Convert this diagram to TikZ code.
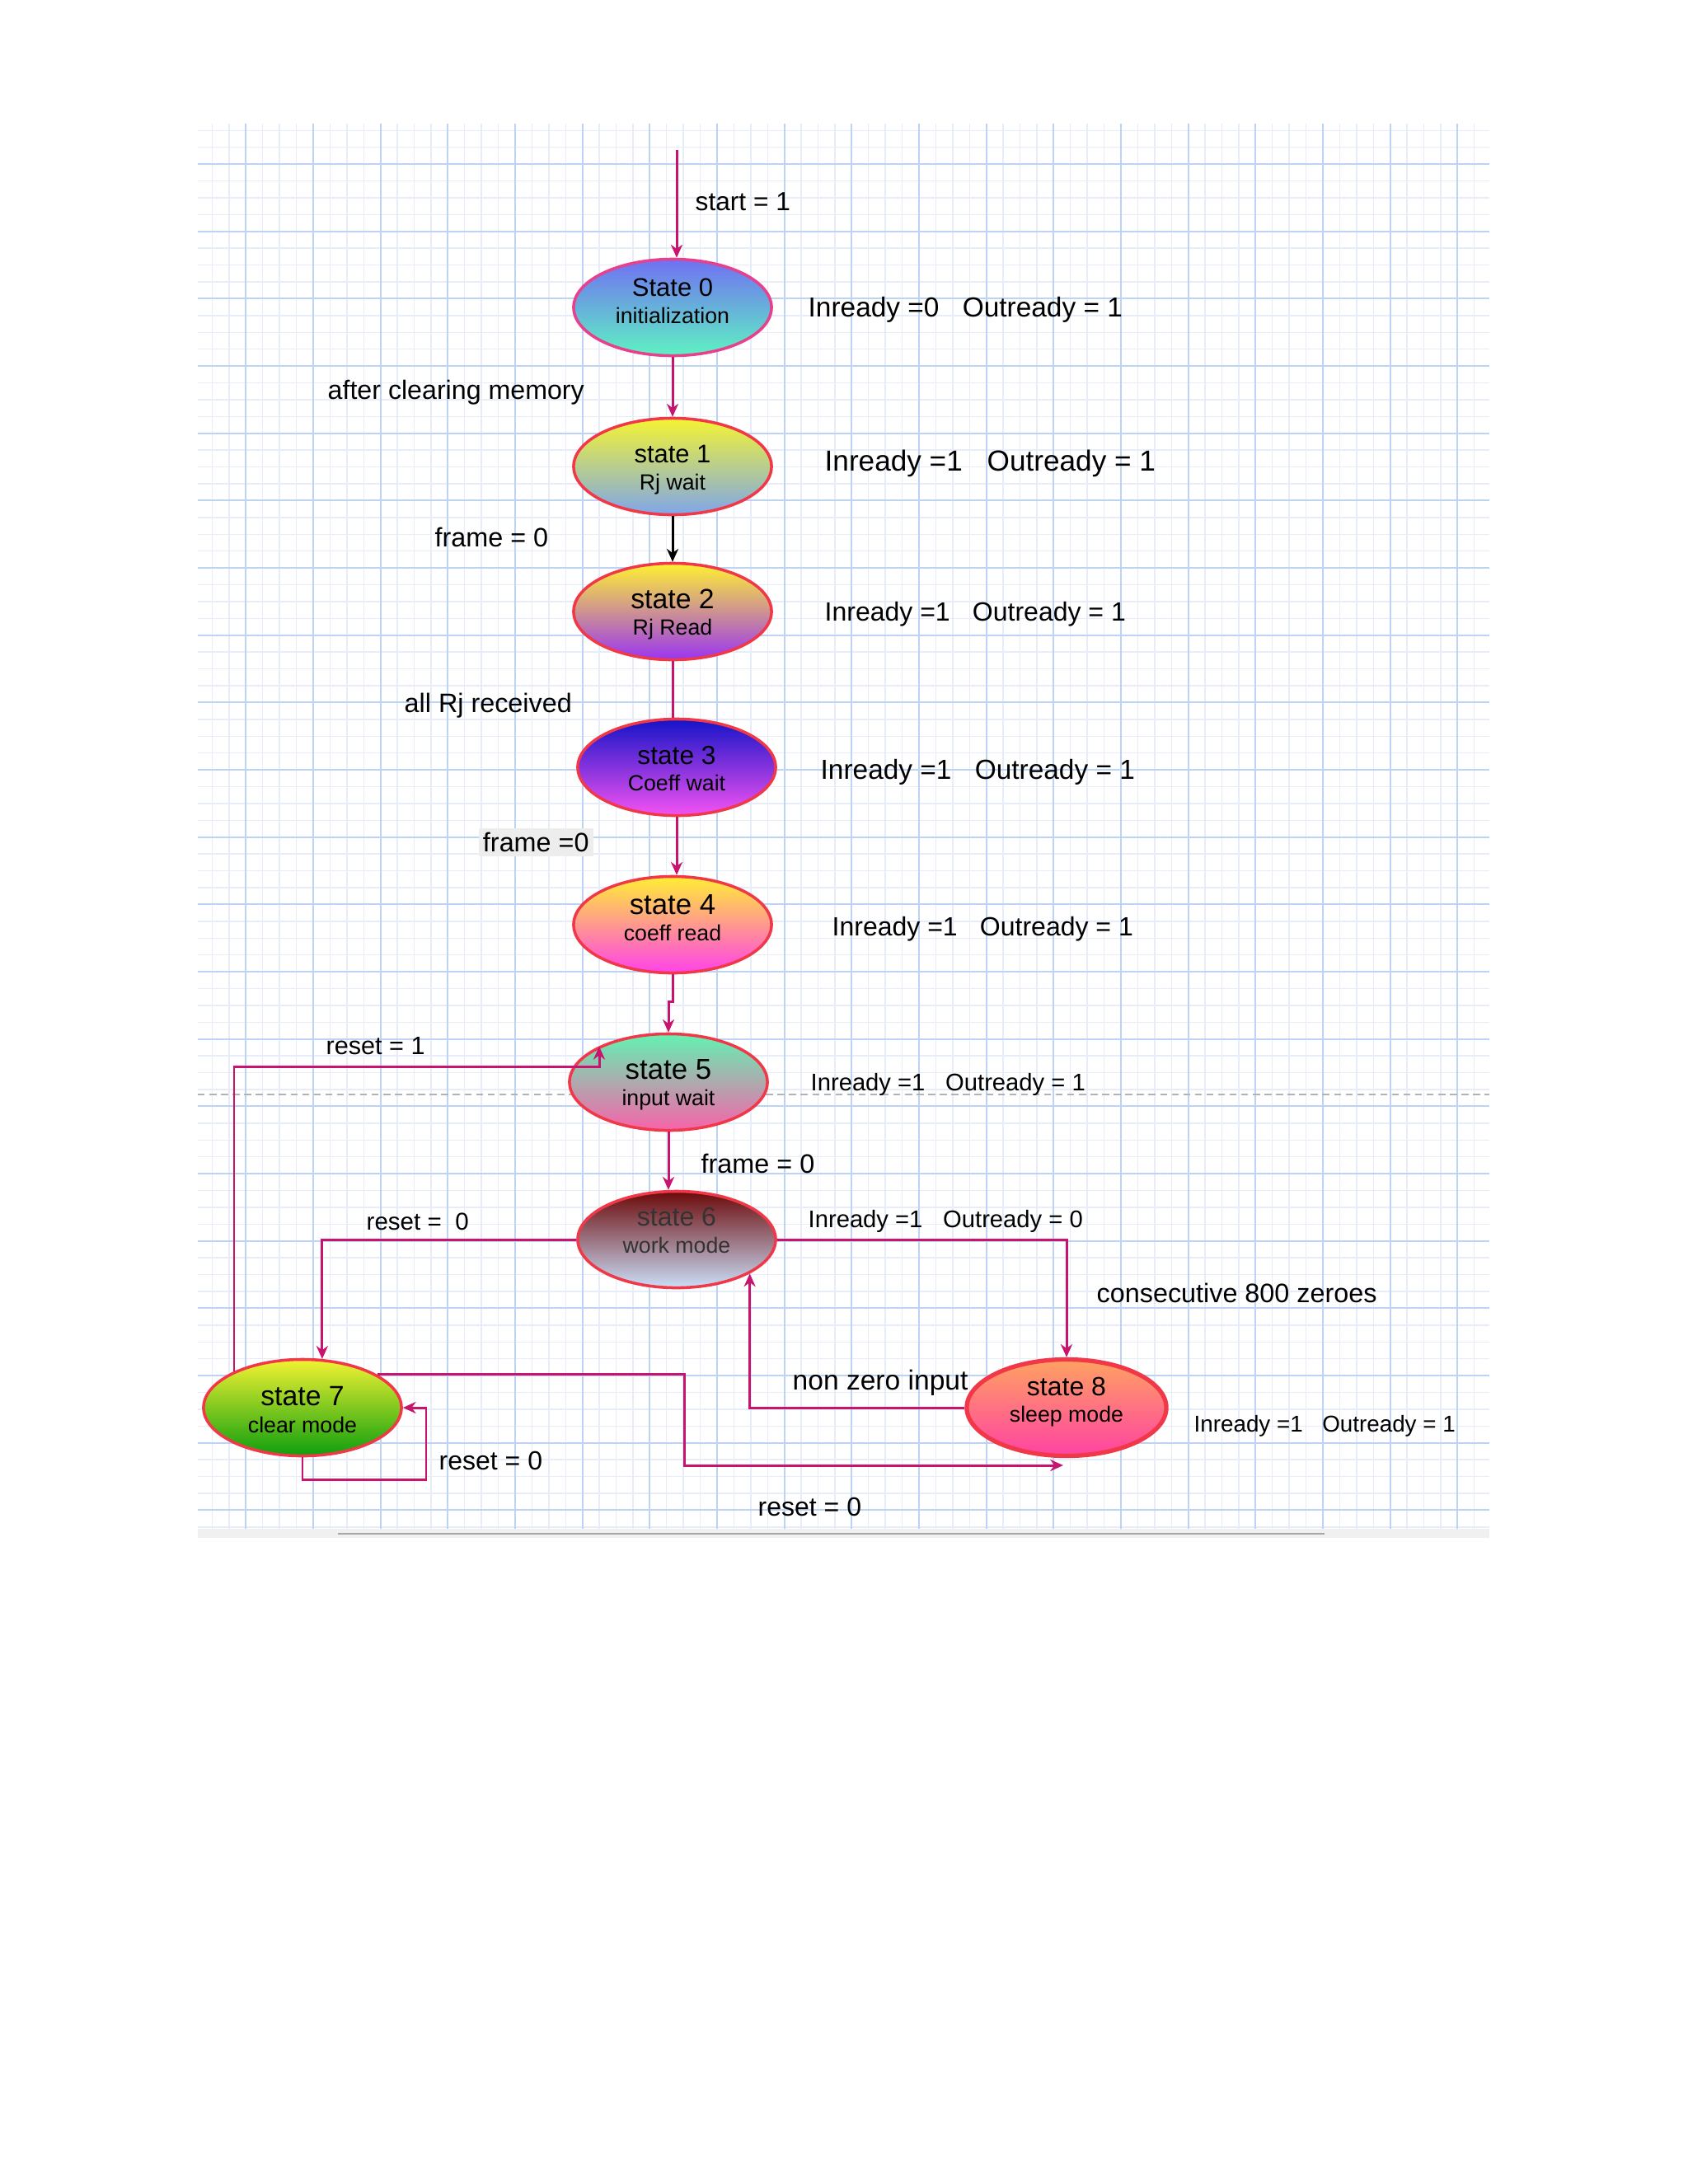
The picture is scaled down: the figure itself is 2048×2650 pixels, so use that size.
\documentclass[tikz,border=0pt]{standalone}
\usepackage{fontspec}
\setmainfont{Liberation Sans}
\usetikzlibrary{arrows.meta,shapes.geometric}
\definecolor{lnk}{HTML}{C8146E}
\definecolor{gmin}{HTML}{E6EDF8}
\definecolor{gmaj}{HTML}{BCD3F3}
\definecolor{bred}{HTML}{F03848}
\definecolor{bpink}{HTML}{E8408C}
\tikzset{
  statebox/.style={ellipse, draw=bred, line width=1pt, minimum width=2.4cm, minimum height=1.17cm,
    inner sep=0pt},
  stxt/.style={inner sep=0pt, align=center},
  lbl/.style={inner sep=0pt, anchor=west, font=\fontsize{9.2}{11}\selectfont},
  lk/.style={draw=lnk, line width=0.85pt},
  arr/.style={-{Stealth[length=4.5pt,width=4pt]}},
  gminline/.style={draw=gmin, line width=0.4pt},
  gmajline/.style={draw=gmaj, line width=0.5pt}
}
\newcommand{\twoline}[2]{#1\\[-0.8pt]{\fontsize{7.6}{9}\selectfont #2}}
\begin{document}
\begin{tikzpicture}[x=0.01cm,y=-0.01cm]
\useasboundingbox (0,0) rectangle (2048,2650);
\fill[white] (0,0) rectangle (2048,2650);
% grid
\foreach \i in {0,...,75} \draw[gminline] ({257.5+20.417*\i},150) -- ({257.5+20.417*\i},1855);
\foreach \i in {0,...,83} \draw[gminline] (240,{158.2+20.417*\i}) -- (1807,{158.2+20.417*\i});
\foreach \m in {0,...,18} \draw[gmajline] ({298.3+81.667*\m},150) -- ({298.3+81.667*\m},1855);
\foreach \m in {0,...,20} \draw[gmajline] (240,{199+81.667*\m}) -- (1807,{199+81.667*\m});
\fill[black!6] (240,1855) rectangle (1807,1866);
\draw[black!35, line width=0.6pt] (410,1861) -- (1607,1861);
\draw[black!30, line width=0.5pt, dash pattern=on 2.4pt off 1.6pt] (240,1328) -- (1807,1328);

% states
\node[statebox, draw=bpink, top color={rgb,255:red,112;green,112;blue,242}, middle color={rgb,255:red,82;green,168;blue,216}, bottom color={rgb,255:red,94;green,242;blue,194}]
  (s0) at (816,373) {};
\node[stxt, font=\fontsize{8.8}{10}\selectfont, yshift=2.2pt] (s0t) at (s0) {\twoline{State 0}{initialization}};
\node[statebox, top color={rgb,255:red,244;green,244;blue,50}, middle color={rgb,255:red,180;green,196;blue,142}, bottom color={rgb,255:red,126;green,166;blue,234}]
  (s1) at (816,566) {};
\node[stxt, font=\fontsize{8.8}{10}\selectfont, yshift=-1.2pt] (s1t) at (s1) {\twoline{state 1}{Rj wait}};
\node[statebox, top color={rgb,255:red,255;green,240;blue,50}, middle color={rgb,255:red,218;green,146;blue,162}, bottom color={rgb,255:red,154;green,52;blue,242}]
  (s2) at (816,742) {};
\node[stxt, font=\fontsize{9.6}{10}\selectfont, yshift=-1pt] (s2t) at (s2) {\twoline{state 2}{Rj Read}};
\node[statebox, top color={rgb,255:red,20;green,20;blue,200}, middle color={rgb,255:red,124;green,48;blue,230}, bottom color={rgb,255:red,244;green,82;blue,242}]
  (s3) at (821,931) {};
\node[stxt, font=\fontsize{9}{10}\selectfont, yshift=-0.5pt] (s3t) at (s3) {\twoline{state 3}{Coeff wait}};
\node[statebox, top color={rgb,255:red,255;green,238;blue,52}, middle color={rgb,255:red,255;green,148;blue,160}, bottom color={rgb,255:red,255;green,66;blue,234}]
  (s4) at (816,1122) {};
\node[stxt, font=\fontsize{9.9}{10}\selectfont, yshift=2.4pt] (s4t) at (s4) {\twoline{state 4}{coeff read}};
\node[statebox, top color={rgb,255:red,98;green,242;blue,178}, middle color={rgb,255:red,178;green,176;blue,168}, bottom color={rgb,255:red,248;green,98;blue,170}]
  (s5) at (811,1313) {};
\node[stxt, font=\fontsize{9.9}{10}\selectfont, yshift=-1pt] (s5t) at (s5) {\twoline{state 5}{input wait}};
\node[statebox, top color={rgb,255:red,108;green,10;blue,10}, middle color={rgb,255:red,162;green,114;blue,130}, bottom color={rgb,255:red,202;green,222;blue,248}]
  (s6) at (821,1504) {};
\node[stxt, text=black!80, font=\fontsize{9.1}{10}\selectfont, yshift=3.1pt] (s6t) at (s6) {\twoline{state 6}{work mode}};
\node[statebox, top color={rgb,255:red,242;green,242;blue,50}, middle color={rgb,255:red,114;green,200;blue,26}, bottom color={rgb,255:red,14;green,158;blue,14}]
  (s7) at (367,1708) {};
\node[stxt, font=\fontsize{9.6}{10}\selectfont, yshift=-0.7pt] (s7t) at (s7) {\twoline{state 7}{clear mode}};
\node[statebox, line width=1.5pt, minimum width=2.42cm, top color={rgb,255:red,255;green,162;blue,98}, middle color={rgb,255:red,255;green,112;blue,128}, bottom color={rgb,255:red,255;green,66;blue,162}]
  (s8) at (1294,1708) {};
\node[stxt, font=\fontsize{9.1}{10}\selectfont, yshift=1.9pt] (s8t) at (s8) {\twoline{state 8}{sleep mode}};

% right-hand output labels
\node[lbl, font=\fontsize{9.5}{11}\selectfont] (o0) at (980,376) {Inready =0\hspace{0.85em}Outready = 1};
\node[lbl, font=\fontsize{10}{11}\selectfont] (o1) at (1000,562) {Inready =1\hspace{0.85em}Outready = 1};
\node[lbl, font=\fontsize{9.1}{11}\selectfont] (o2) at (1000,745) {Inready =1\hspace{0.85em}Outready = 1};
\node[lbl, font=\fontsize{9.5}{11}\selectfont] (o3) at (995,937) {Inready =1\hspace{0.85em}Outready = 1};
\node[lbl, font=\fontsize{9.1}{11}\selectfont] (o4) at (1009,1127) {Inready =1\hspace{0.85em}Outready = 1};
\node[lbl, font=\fontsize{8.3}{10}\selectfont] (o5) at (983,1316) {Inready =1\hspace{0.85em}Outready = 1};
\node[lbl, font=\fontsize{8.3}{10}\selectfont] (o6) at (980,1482) {Inready =1\hspace{0.85em}Outready = 0};
\node[lbl, font=\fontsize{7.9}{10}\selectfont] (o8) at (1448,1730) {Inready =1\hspace{0.85em}Outready = 1};

% transition labels
\node[lbl, font=\fontsize{9}{11}\selectfont] (t0) at (843,245) {start = 1};
\node[lbl, font=\fontsize{9.15}{11}\selectfont] (t1) at (397,476) {after clearing memory};
\node[lbl] (t2) at (527,652) {frame = 0};
\node[lbl] (t3) at (490,856) {all Rj received};
\node[lbl, fill=black!7, inner sep=1.5pt] (t4) at (580,1022) {frame =0};
\node[lbl, font=\fontsize{8.7}{11}\selectfont] (t5) at (395,1269) {reset = 1};
\node[lbl] (t6) at (850,1412) {frame = 0};
\node[lbl, font=\fontsize{8.4}{11}\selectfont] (t7) at (444,1482) {reset =\hspace{0.56em}0};
\node[lbl] (t8) at (1330,1569) {consecutive 800 zeroes};
\node[lbl, font=\fontsize{9.55}{11}\selectfont] (t9) at (961,1678) {non zero input};
\node[lbl, font=\fontsize{9.1}{11}\selectfont] (t10) at (532,1772) {reset = 0};
\node[lbl, font=\fontsize{9.1}{11}\selectfont] (t11) at (919,1828) {reset = 0};

% connectors
\coordinate (st) at (821,182);
\draw[lk,arr] (st) -- (st |- s0.north);
\draw[lk,arr] (s0.south) -- (s1.north);
\draw[black, line width=0.85pt, arr] (s1.south) -- (s2.north);
\draw[lk] (s2.south) -- (s2.south |- s3.north);
\draw[lk,arr] (s3.south) -- (s3.south |- s4.north);
\coordinate (j45) at (811,1215);
\draw[lk,arr] (s4.south) |- (j45) -- (s5.north);
\draw[lk,arr] (s5.south) -- (s5.south |- s6.north);
\draw[lk,arr] (s6.west) -| (s7.68);
\draw[lk,arr] (s6.east) -| (s8.north);
\draw[lk,arr] (s8.west) -| (s6.-25.3);
\coordinate (r1) at (727,1294);
\draw[lk,arr] (s7.152.7) |- (r1) -- (r1 |- s5.153.4);
\coordinate (r0x) at (830,1778);
\coordinate (r0b) at (1290,1778);
\draw[lk,arr] (s7.24.8) -| (r0x) -- (r0b);
\coordinate (lp) at (517,1795);
\draw[lk,arr] (s7.south) |- (lp) |- (s7.east);
\end{tikzpicture}
\end{document}
